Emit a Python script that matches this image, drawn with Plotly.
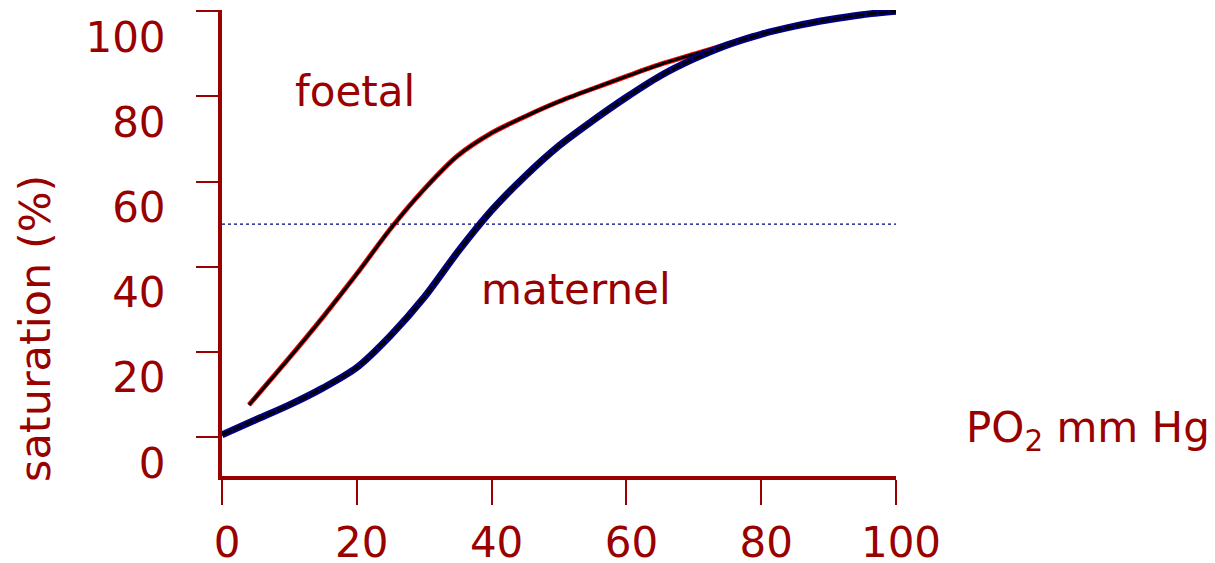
import plotly.graph_objects as go

# ---- data ----
po2_maternal = [0, 5, 10, 15, 20, 25, 30, 35, 40, 45, 50, 55, 60, 65, 70, 75, 80, 85, 90, 95, 100]
sat_maternal = [0.5, 4, 7.5, 11.5, 16.3, 23.8, 32.8, 43.5, 53.2, 61.3, 68.4, 74.3, 79.8, 84.8, 88.8, 92.1, 94.6, 96.5, 98, 99.2, 100]

po2_foetal = [4, 10, 15, 20, 25, 30, 35, 40, 45, 50, 55, 60, 65, 70, 75, 79]
sat_foetal = [7.5, 18.6, 28.2, 38.3, 48.9, 58.2, 66.1, 71.4, 75.3, 78.8, 81.8, 84.7, 87.5, 89.9, 92.3, 94.4]

half_sat_x = [0, 100]
half_sat_y = [50, 50]

tick_vals = [0, 20, 40, 60, 80, 100]
tick_text = ["0", "20", "40", "60", "80", "100"]

DARK_RED = "#990000"
FONT = "DejaVu Sans"

fig = go.Figure()

# 50% reference line
fig.add_trace(go.Scatter(x=half_sat_x, y=half_sat_y, mode="lines",
                         line=dict(color="#000080", width=1.2, dash="dot"),
                         hoverinfo="skip", showlegend=False))

# foetal curve: red outline + black core
fig.add_trace(go.Scatter(x=po2_foetal, y=sat_foetal, mode="lines",
                         line=dict(color="#FF0000", width=5, shape="spline", smoothing=0.8),
                         showlegend=False))
fig.add_trace(go.Scatter(x=po2_foetal, y=sat_foetal, mode="lines",
                         line=dict(color="#000000", width=3, shape="spline", smoothing=0.8),
                         showlegend=False))

# maternal curve: navy outline + black dashed core
fig.add_trace(go.Scatter(x=po2_maternal, y=sat_maternal, mode="lines",
                         line=dict(color="#000080", width=7, shape="spline", smoothing=0.8),
                         showlegend=False))
fig.add_trace(go.Scatter(x=po2_maternal, y=sat_maternal, mode="lines",
                         line=dict(color="#000000", width=3, dash="10px,2px", shape="spline", smoothing=0.8),
                         showlegend=False))

fig.update_xaxes(range=[0, 100], tickvals=tick_vals, ticktext=tick_text,
                 showgrid=False, zeroline=False, automargin=False,
                 showline=True, linecolor=DARK_RED, linewidth=4,
                 ticks="outside", ticklen=25, tickwidth=1.5, tickcolor=DARK_RED,
                 tickfont=dict(family=FONT, size=42, color=DARK_RED),
                 ticklabelstandoff=2, ticklabelshift=5)

fig.update_yaxes(range=[-9.2, 100.3], tickvals=tick_vals, ticktext=tick_text,
                 showgrid=False, zeroline=False, automargin=False,
                 showline=True, linecolor=DARK_RED, linewidth=4,
                 ticks="outside", ticklen=22, tickwidth=1.5, tickcolor=DARK_RED,
                 tickfont=dict(family=FONT, size=42, color=DARK_RED),
                 ticklabelstandoff=22, ticklabelshift=26)

annot_font = dict(family=FONT, size=42, color=DARK_RED)
fig.add_annotation(x=19.7, y=81.2, xref="x", yref="y", text="foetal",
                   showarrow=False, font=annot_font, xanchor="center", yanchor="middle")
fig.add_annotation(x=52.5, y=34.7, xref="x", yref="y", text="maternel",
                   showarrow=False, font=annot_font, xanchor="center", yanchor="middle")
fig.add_annotation(x=1.285, y=0.0966, xref="paper", yref="paper", text="PO<sub>2</sub> mm Hg",
                   showarrow=False, font=annot_font, xanchor="center", yanchor="middle")
fig.add_annotation(x=-0.2775, y=0.3176, xref="paper", yref="paper", text="saturation (%)",
                   textangle=-90, showarrow=False, font=dict(family=FONT, size=43, color=DARK_RED),
                   xanchor="center", yanchor="middle")

fig.update_layout(width=1215, height=563,
                  margin=dict(l=222, r=319, t=10, b=87),
                  paper_bgcolor="white", plot_bgcolor="white",
                  showlegend=False)

fig.write_html("out.html", config={"displayModeBar": False},
               post_script="document.body.style.margin='0';document.body.style.overflow='hidden';")
